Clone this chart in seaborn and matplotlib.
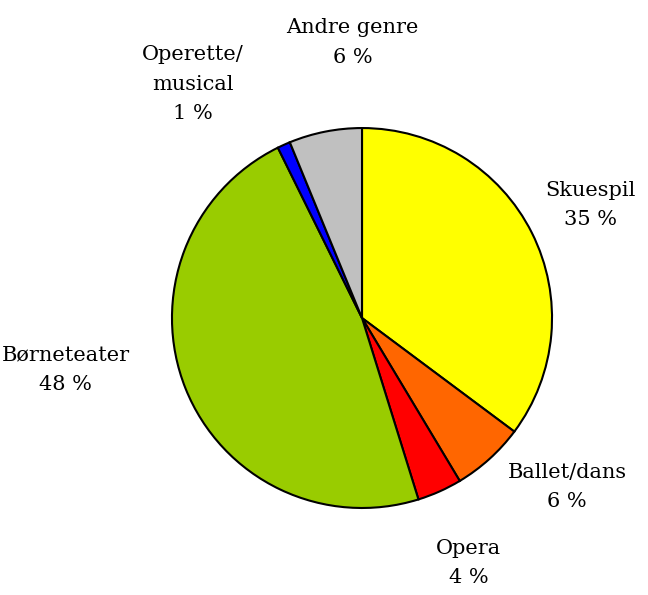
import matplotlib.pyplot as plt
import seaborn as sns

# Data (share of performances by genre, clockwise from top)
genres = ["Skuespil", "Ballet/dans", "Opera", "Børneteater", "Operette/\nmusical", "Andre genre"]
shares = [35.2, 6.2, 3.8, 47.5, 1.1, 6.2]
pct_labels = ["35 %", "6 %", "4 %", "48 %", "1 %", "6 %"]

colors = ["#FFFF00", "#FF6600", "#FF0000", "#99CC00", "#0000FF", "#C0C0C0"]
# label centres in units of pie radius
label_pos = [(1.20, 0.595), (1.08, -0.89), (0.56, -1.29),
             (-1.56, -0.27), (-0.89, 1.23), (-0.05, 1.45)]


def main():
    sns.set_style("white")
    plt.rcParams["font.family"] = ["DejaVu Serif"]

    fig = plt.figure(figsize=(6.48, 5.95), dpi=100)
    ax = fig.add_axes([0, 0, 1, 1])

    ax.pie(shares, colors=colors, startangle=90, counterclock=False,
           radius=1.0, wedgeprops=dict(edgecolor="black", linewidth=1.5))

    for name, pct, (x, y) in zip(genres, pct_labels, label_pos):
        ax.text(x, y, f"{name}\n{pct}", ha="center", va="center",
                fontsize=15, linespacing=1.7, color="black")

    ax.set_xlim(-1.905, 1.505)
    ax.set_ylim(-1.458, 1.674)
    ax.set_aspect("auto")
    ax.axis("off")

    fig.savefig("out.png", dpi=100)


if __name__ == "__main__":
    main()
